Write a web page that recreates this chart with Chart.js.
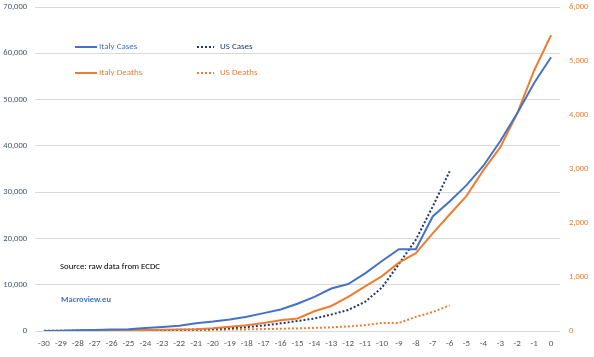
<!DOCTYPE html>
<html><head><meta charset="utf-8">
<script src="https://cdn.jsdelivr.net/npm/chart.js@4/dist/chart.umd.min.js"></script>
<style>html,body{margin:0;padding:0;background:#fff;}#wrap{width:594px;height:357px;position:relative}</style>
</head><body><div id="wrap"><canvas id="c"></canvas></div>
<script>
// ---- data ----
const days = [-30,-29,-28,-27,-26,-25,-24,-23,-22,-21,-20,-19,-18,-17,-16,-15,-14,-13,-12,-11,-10,-9,-8,-7,-6,-5,-4,-3,-2,-1,0];
const italyCases = [20,79,152,229,322,400,650,888,1128,1694,2036,2502,3089,3858,4636,5883,7375,9172,10149,12462,15113,17660,17660,24747,27980,31506,35713,41035,47021,53578,59138];
const italyDeaths = [1,2,3,7,10,12,17,21,29,34,52,79,107,148,197,233,366,463,631,827,1016,1266,1441,1809,2158,2503,2978,3405,4032,4825,5476];
const usDays = [-30,-29,-28,-27,-26,-25,-24,-23,-22,-21,-20,-19,-18,-17,-16,-15,-14,-13,-12,-11,-10,-9,-8,-7,-6];
const usCases = [50,60,70,80,100,120,150,200,260,330,420,600,850,1200,1650,2150,2700,3550,4550,6300,9400,14500,19700,26900,34500];
const usDeaths = [0,1,1,2,6,9,11,14,17,19,22,26,30,36,41,48,57,68,85,108,150,150,262,350,475];
const leftTicks = [0,10000,20000,30000,40000,50000,60000,70000];
const rightTicks = [0,1000,2000,3000,4000,5000,6000];
const seriesNames = ["Italy Cases","Italy Deaths","US Cases","US Deaths"];
const noteSource = "Source: raw data from ECDC";
const noteBrand = "Macroview.eu";

const FONT = "Carlito, Lato, 'Open Sans', sans-serif";
const BLUE = '#4472c4', ORANGE = '#ed7d31', NAVY = '#1f3864';

const pts = (xs, ys) => xs.map((x, i) => ({x, y: ys[i]}));
const noPad = s => { s.paddingTop = 0; s.paddingBottom = 0; s.paddingLeft = 0; s.paddingRight = 0; };

const overlay = {
  id: 'overlay',
  afterDraw(chart) {
    const ctx = chart.ctx;
    ctx.save();
    ctx.textBaseline = 'middle';
    ctx.textAlign = 'left';
    const items = [
      {name: seriesNames[0], color: BLUE, text: BLUE, dash: [], x1: 75, x2: 97, tx: 99, y: 47},
      {name: seriesNames[2], color: NAVY, text: NAVY, dash: [2,2], x1: 197, x2: 214, tx: 220, y: 47},
      {name: seriesNames[1], color: ORANGE, text: ORANGE, dash: [], x1: 75, x2: 97, tx: 99, y: 73},
      {name: seriesNames[3], color: ORANGE, text: ORANGE, dash: [2,2], x1: 197, x2: 214, tx: 220, y: 73}
    ];
    ctx.font = '9px ' + FONT;
    for (const it of items) {
      ctx.beginPath();
      ctx.setLineDash(it.dash);
      ctx.strokeStyle = it.color;
      ctx.lineWidth = 2;
      ctx.moveTo(it.x1, it.y); ctx.lineTo(it.x2, it.y);
      ctx.stroke();
      ctx.setLineDash([]);
      ctx.fillStyle = it.text;
      ctx.fillText(it.name, it.tx, it.y);
    }
    ctx.fillStyle = '#000';
    ctx.font = '8.8px ' + FONT;
    ctx.fillText(noteSource, 60, 267);
    ctx.fillStyle = BLUE;
    ctx.font = 'bold 8.5px ' + FONT;
    ctx.fillText(noteBrand, 61, 300);
    ctx.restore();
  }
};

new Chart(document.getElementById('c'), {
  type: 'line',
  data: {
    datasets: [
      {label: seriesNames[0], data: pts(days, italyCases), borderColor: BLUE, borderWidth: 2, yAxisID: 'y'},
      {label: seriesNames[1], data: pts(days, italyDeaths), borderColor: ORANGE, borderWidth: 2, yAxisID: 'y2'},
      {label: seriesNames[2], data: pts(usDays, usCases), borderColor: NAVY, borderWidth: 2, borderDash: [2,2], yAxisID: 'y'},
      {label: seriesNames[3], data: pts(usDays, usDeaths), borderColor: ORANGE, borderWidth: 2, borderDash: [2,2], yAxisID: 'y2'}
    ]
  },
  options: {
    responsive: true,
    maintainAspectRatio: false,
    animation: false,
    events: [],
    layout: {padding: {top: 7, left: 0, right: 0, bottom: 0}},
    elements: {point: {radius: 0}, line: {tension: 0, fill: false}},
    plugins: {legend: {display: false}, tooltip: {enabled: false}},
    scales: {
      x: {
        type: 'linear', min: -30.53, max: 0.53,
        afterBuildTicks: s => { s.ticks = days.map(v => ({value: v})); },
        afterFit: s => { s.height = 26; noPad(s); },
        grid: {display: false, drawTicks: false},
        border: {display: false},
        ticks: {autoSkip: false, maxRotation: 0, padding: 7, color: '#595959', font: {family: FONT, size: 9},
                callback: v => String(v)}
      },
      y: {
        position: 'left', min: 0, max: 70000,
        afterBuildTicks: s => { s.ticks = leftTicks.map(v => ({value: v})); },
        afterFit: s => { s.width = 35; noPad(s); },
        grid: {color: '#d9d9d9', lineWidth: 1, drawTicks: false},
        border: {display: false},
        ticks: {padding: 8, color: '#44546a', font: {family: FONT, size: 8.5},
                callback: v => v.toLocaleString('en-US')}
      },
      y2: {
        position: 'right', min: 0, max: 6000,
        afterBuildTicks: s => { s.ticks = rightTicks.map(v => ({value: v})); },
        afterFit: s => { s.width = 34; noPad(s); },
        grid: {display: false, drawTicks: false},
        border: {display: false},
        ticks: {padding: 9, color: ORANGE, font: {family: FONT, size: 8.5},
                callback: v => v.toLocaleString('en-US')}
      }
    }
  },
  plugins: [overlay]
});
</script></body></html>
